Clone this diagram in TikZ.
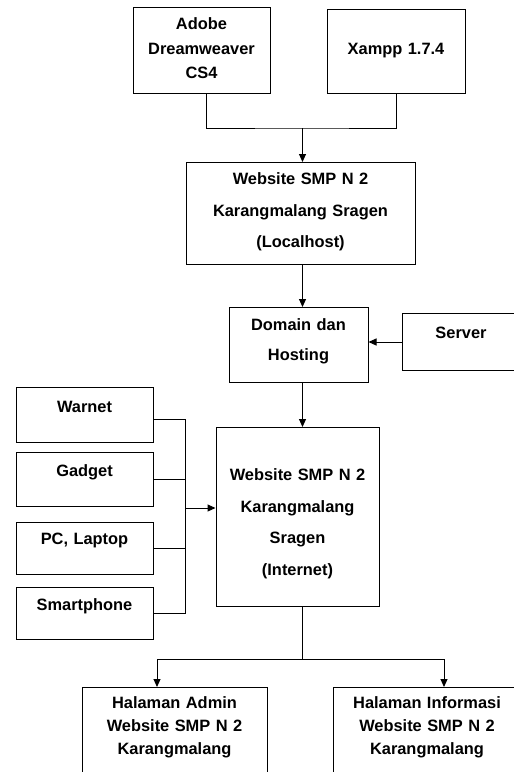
\documentclass[tikz,border=0pt]{standalone}
\usepackage{fontspec}
\setmainfont{Liberation Sans}
\usetikzlibrary{arrows.meta}
\tikzset{
  blok/.style={draw, inner sep=0pt, anchor=north, align=center},
  baris/.style={font=\bfseries\fontsize{16.4}{#1}\selectfont},
  baris/.default=24.5,
  panah/.style={-{Triangle[length=8pt,width=7pt]}},
}
\begin{document}
\begin{tikzpicture}[x=1pt,y=-1pt,line width=1pt]
      \clip (0,0) rectangle (514,772);
      % perangkat lunak
      \node[blok,baris,text width=137pt,text height=22pt,text depth=64pt] (adobe) at (201.5,7) {Adobe\\Dreamweaver\\CS4};
      \node[blok,baris,text width=138pt,text height=45pt,text depth=39pt] (xampp) at (396,9) {Xampp 1.7.4};
      \node[blok,baris=31.5,text width=229pt,text height=22pt,text depth=80pt] (local) at (300.5,162) {Website SMP N 2\\Karangmalang Sragen\\(Localhost)};
      \node[blok,baris=30,text width=139pt,text height=23pt,text depth=52pt] (dom) at (298.5,307) {Domain dan\\Hosting};
      \node[blok,baris,text width=118pt,text height=25pt,text depth=32pt] (srv) at (461,313) {Server};
      % perangkat akses
      \node[blok,baris,text width=137pt,text height=25pt,text depth=30pt] (warnet) at (84.5,387) {Warnet};
      \node[blok,baris,text width=137pt,text height=24pt,text depth=30pt] (gadget) at (84.5,452) {Gadget};
      \node[blok,baris,text width=137pt,text height=22pt,text depth=30pt] (pc) at (84.5,522) {PC, Laptop};
      \node[blok,baris,text width=137pt,text height=23pt,text depth=29pt] (hp) at (84.5,587) {Smartphone};
      \node[blok,baris=31.5,text width=163pt,text height=53pt,text depth=126pt] (inet) at (297.5,427) {Website SMP N 2\\Karangmalang\\Sragen\\(Internet)};
      % halaman
      \node[blok,baris=23,text width=185pt,text height=21pt,text depth=100pt] (admin) at (174.5,687) {Halaman Admin\\Website SMP N 2\\Karangmalang};
      \node[blok,baris=23,text width=188pt,text height=21pt,text depth=100pt] (info) at (427,687) {Halaman Informasi\\Website SMP N 2\\Karangmalang};
      % garis penghubung
      \coordinate (spine) at (302.5,0);
      \coordinate (atas) at (302.5,128);
      \coordinate (bus) at (185,508);
      \coordinate (bawah) at (302.5,659);
      \coordinate (kiri) at (157,659);
      \coordinate (kanan) at (444,659);
      \draw ([xshift=4.5pt]adobe.south) |- (atas) -| (xampp.south);
      \draw[panah] (atas) -- (atas |- local.north);
      \draw[panah] (local.south -| spine) -- (dom.north -| spine);
      \draw[panah] (srv.west) -- (srv.west -| dom.east);
      \draw[panah] (dom.south -| spine) -- (inet.north -| spine);
      \draw ([yshift=-4.5pt]warnet.east) -| (hp.east -| bus) -- (hp.east);
      \draw (gadget.east) -- (gadget.east -| bus);
      \draw (pc.east) -- (pc.east -| bus);
      \draw[panah] (bus) -- (bus -| inet.west);
      \draw (inet.south -| spine) -- (bawah);
      \draw (kiri) -- (kanan);
      \draw[panah] (kiri) -- (kiri |- admin.north);
      \draw[panah] (kanan) -- (kanan |- info.north);
    \end{tikzpicture}
\end{document}
